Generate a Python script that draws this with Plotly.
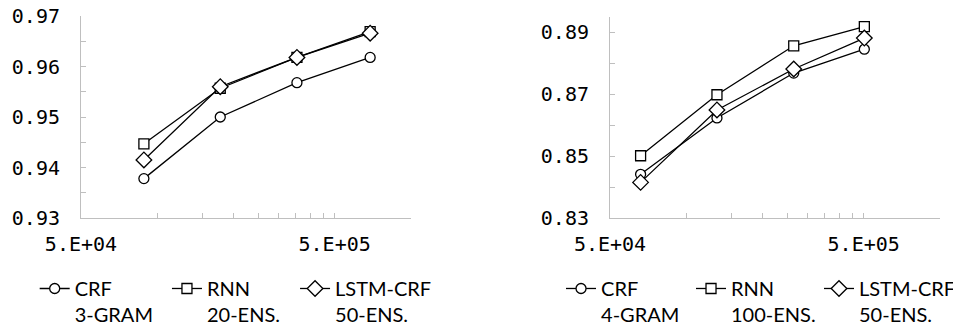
import plotly.graph_objects as go

# Left chart data
left_x = [88500, 177000, 355000, 690000]
left_crf = [0.9378, 0.9500, 0.9568, 0.9618]
left_rnn = [0.9447, 0.9557, 0.9618, 0.9669]
left_lstm = [0.9415, 0.9560, 0.9618, 0.9666]
left_names = ["CRF<br>3-GRAM", "RNN<br>20-ENS.", "LSTM-CRF<br>50-ENS."]

# Right chart data
right_x = [66000, 132000, 265000, 503000]
right_crf = [0.8441, 0.8623, 0.8768, 0.8845]
right_rnn = [0.8501, 0.8698, 0.8856, 0.8918]
right_lstm = [0.8415, 0.8649, 0.8781, 0.8881]
right_names = ["CRF<br>4-GRAM", "RNN<br>100-ENS.", "LSTM-CRF<br>50-ENS."]

x_tickvals = [5e4, 5e5]
x_ticktext = ["5.E+04", "5.E+05"]
x_minor = [1e5, 1.5e5, 2e5, 2.5e5, 3e5, 3.5e5, 4e5, 4.5e5, 1e6]

symbols = ["circle", "square", "diamond"]
msizes = [10, 10, 12]

left_legends = ["legend", "legend2", "legend3"]
right_legends = ["legend4", "legend5", "legend6"]
legend_x = [0.0280, 0.1668, 0.3012, 0.5803, 0.7167, 1.0]
legend_anchor = ["left", "left", "left", "left", "left", "right"]

fig = go.Figure()

def add_series(xs, ys_list, names, xa, ya, legs):
    for ys, name, sym, ms, leg in zip(ys_list, names, symbols, msizes, legs):
        fig.add_trace(go.Scatter(
            x=xs, y=ys, name=name, mode="lines+markers",
            xaxis=xa, yaxis=ya, legend=leg, showlegend=True,
            line=dict(color="black", width=1.3),
            marker=dict(symbol=sym, size=ms, color="white",
                        line=dict(color="black", width=1.3)),
        ))

add_series(left_x, [left_crf, left_rnn, left_lstm], left_names, "x", "y", left_legends)
add_series(right_x, [right_crf, right_rnn, right_lstm], right_names, "x2", "y2", right_legends)

axis_common = dict(showgrid=False, zeroline=False, showline=True, linecolor="#bfbfbf",
                   linewidth=1, ticks="inside", tickcolor="#bfbfbf", ticklen=5,
                   automargin=False, ticklabeloverflow="allow",
                   tickfont=dict(family="DejaVu Sans Mono", size=20, color="black"))

xaxis_common = dict(axis_common, type="log", range=[4.69897, 6.0],
                    tickmode="array", tickvals=x_tickvals, ticktext=x_ticktext,
                    ticklabelstandoff=8,
                    minor=dict(tickmode="array", tickvals=x_minor, ticks="inside",
                               ticklen=5, tickcolor="#bfbfbf"))

layout_legends = {}
for name, lx, anc in zip(left_legends + right_legends, legend_x, legend_anchor):
    layout_legends[name] = dict(
        orientation="h", x=lx, y=0.192, xanchor=anc, yanchor="top",
        valign="top", font=dict(family="Lato", size=20, color="black"),
        bgcolor="rgba(0,0,0,0)", tracegroupgap=0)

fig.update_layout(
    width=953, height=323, margin=dict(l=0, r=0, t=0, b=0, autoexpand=False),
    paper_bgcolor="white", plot_bgcolor="white", showlegend=True,
    xaxis=dict(xaxis_common, domain=[0.0766, 0.4229], anchor="y"),
    yaxis=dict(axis_common, domain=[0.3498, 0.9752], anchor="x", range=[0.93, 0.97],
               tickmode="array", tickvals=[0.93, 0.94, 0.95, 0.96, 0.97],
               tickformat=".2f", ticklabelstandoff=16,
               minor=dict(tickmode="array", tickvals=[0.935, 0.945, 0.955, 0.965],
                          ticks="inside", ticklen=5, tickcolor="#bfbfbf")),
    xaxis2=dict(xaxis_common, domain=[0.6317, 0.9780], anchor="y2"),
    yaxis2=dict(axis_common, domain=[0.3498, 0.9731], anchor="x2", range=[0.83, 0.895],
                tickmode="array", tickvals=[0.83, 0.85, 0.87, 0.89],
                tickformat=".2f", ticklabelstandoff=16,
                minor=dict(tickmode="array", tickvals=[0.84, 0.86, 0.88],
                           ticks="inside", ticklen=5, tickcolor="#bfbfbf")),
    **layout_legends,
)

fig.write_html("out.html")
